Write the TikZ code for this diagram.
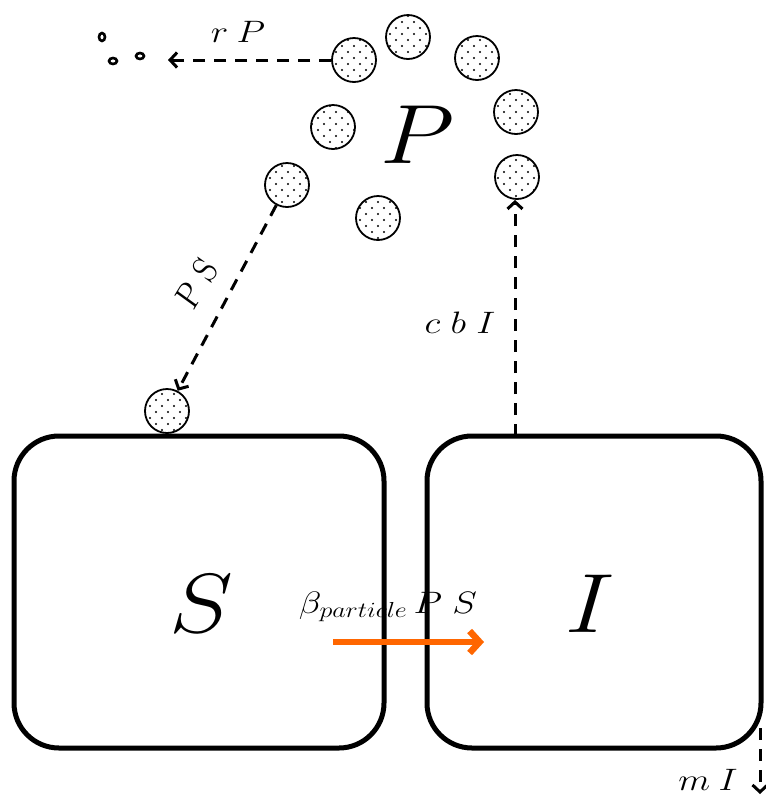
\RequirePackage{fix-cm}
\documentclass[tikz,border=0pt]{standalone}
\usetikzlibrary{arrows.meta,patterns.meta}
\definecolor{flowOrange}{RGB}{255,102,0}
\begin{document}
\begin{tikzpicture}[x=1pt,y=1pt,
  box/.style={draw, line width=5pt, rounded corners=45pt, inner sep=0pt},
  particle/.style={circle, draw, line width=1.8pt, minimum size=44pt, inner sep=0pt,
    pattern={Dots[distance=12pt,radius=1.1pt]},
    postaction={pattern={Dots[distance=12pt,radius=1.1pt,xshift=6pt,yshift=6pt]}}},
  flow/.style={line width=3pt, dash pattern=on 12pt off 9pt,
    -{Straight Barb[length=7pt,width=15pt]}},
  lab/.style={font=\fontsize{31}{32}\selectfont, inner sep=0pt, xscale=1.2},
  big/.style={font=\fontsize{84}{84}\selectfont, inner sep=0pt, xscale=1.15},
  speck/.style={draw, line width=2.6pt}]
\useasboundingbox (0,0) rectangle (766,-796);

% compartments
\node[box, minimum width=370pt, minimum height=312pt] (boxS) at (199,-592) {};
\node[box, minimum width=334pt, minimum height=312pt] (boxI) at (594,-592) {};
\node[big] (labS) at (201,-604) {$S$};
\node[big] (labI) at (590,-604) {$I$};

% particle cloud
\node[particle] (p1) at (354,-60) {};
\node[particle] (p2) at (408,-37) {};
\node[particle] (p3) at (477,-58) {};
\node[particle] (p4) at (516,-112) {};
\node[particle] (p5) at (517,-177) {};
\node[particle] (p6) at (333,-127) {};
\node[particle] (p7) at (287,-185) {};
\node[particle] (p8) at (378,-218) {};
\node[particle] (p9) at (167,-411) {};
\node[big] (labP) at (418,-135) {$P$};

% decayed particles
\draw[speck] (102,-37) ellipse (3pt and 4pt);
\draw[speck] (113,-61) ellipse (4pt and 3pt);
\draw[speck] (140,-56) ellipse (4pt and 3pt);

% decay of particles
\coordinate (decay) at (168,-60);
\draw[flow] (p1.west) -- (decay);
\node[lab] (labrP) at (238,-32) {$r\:P$};

% uptake by susceptibles
\draw[flow] (p7) -- (p9);
\node[lab, rotate=63] (labPS) at (196,-284) {$P\:S$};

% shedding by infecteds
\coordinate (shed) at (515,-436);
\draw[flow] (shed) -- (shed |- p5.south);
\node[lab] (labcbI) at (460,-323) {$c\;b\;I$};

% mortality
\coordinate (mtop) at (760,-728);
\coordinate (mbot) at (760,-794);
\draw[flow] (mtop) -- (mbot);
\node[lab] (labmI) at (708,-780) {$m\:I$};

% infection
\coordinate (infA) at (333,-642);
\coordinate (infB) at (484,-642);
\draw[line width=6.5pt, flowOrange, -{Straight Barb[length=10pt,width=22pt]}] (infA) -- (infB);
\node[lab] (labinf) at (388,-607) {$\beta_{particle}\,P\;S$};
\end{tikzpicture}
\end{document}
